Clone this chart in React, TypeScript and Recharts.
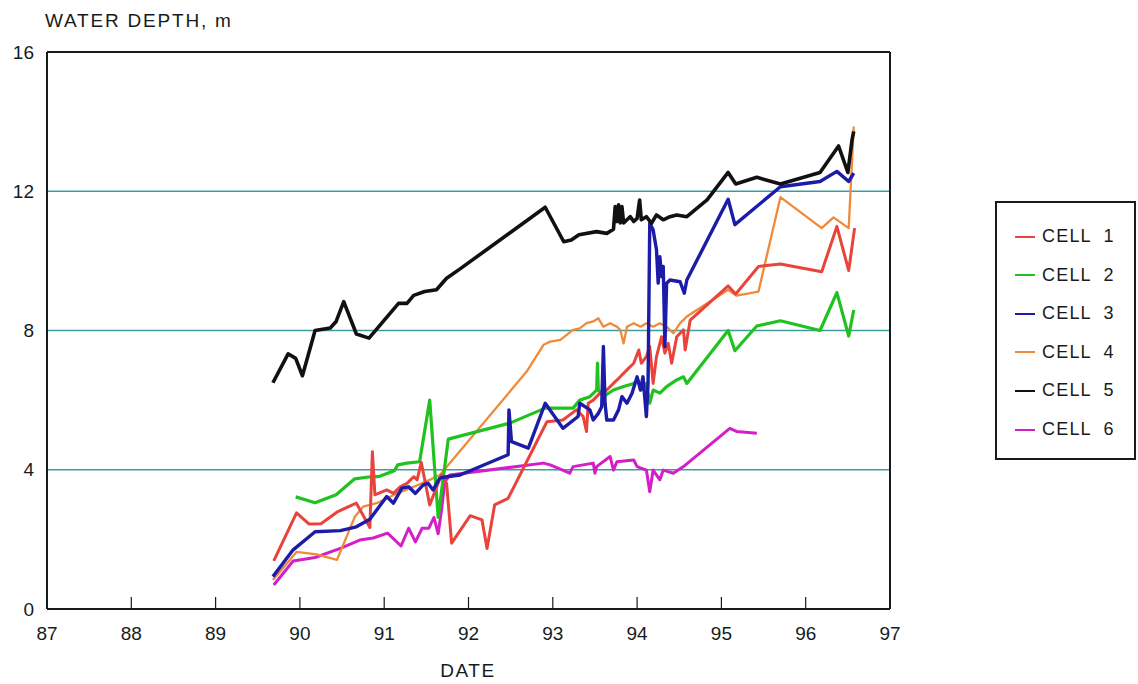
import { LineChart, Line, XAxis, YAxis, CartesianGrid, ReferenceLine } from 'recharts';

// [year, depth m]
const cell1: [number, number][] = [
  [89.69, 1.38], [89.96, 2.76], [90.11, 2.44], [90.25, 2.45], [90.45, 2.8], [90.67, 3.04],
  [90.83, 2.34], [90.86, 4.52], [90.89, 3.28], [91.03, 3.42], [91.11, 3.32], [91.19, 3.51],
  [91.27, 3.61], [91.35, 3.8], [91.39, 3.71], [91.44, 4.21], [91.54, 2.99], [91.62, 3.49],
  [91.68, 3.85], [91.74, 3.61], [91.8, 1.89], [92.02, 2.68], [92.16, 2.56], [92.22, 1.74],
  [92.31, 2.99], [92.47, 3.18], [92.93, 5.38], [93.12, 5.43], [93.28, 5.72], [93.36, 5.53],
  [93.4, 5.1], [93.42, 5.91], [93.48, 6.0], [93.56, 6.2], [93.64, 6.29], [93.72, 6.48],
  [93.8, 6.67], [93.88, 6.87], [93.96, 7.06], [94.02, 7.44], [94.05, 7.06], [94.11, 7.25],
  [94.15, 7.54], [94.19, 6.48], [94.23, 7.25], [94.29, 7.82], [94.33, 7.35], [94.37, 7.63],
  [94.41, 7.06], [94.47, 7.82], [94.55, 8.02], [94.57, 7.44], [94.63, 8.3], [95.08, 9.28],
  [95.17, 9.05], [95.44, 9.84], [95.7, 9.91], [96.19, 9.69], [96.37, 10.99], [96.51, 9.72],
  [96.58, 10.94],
];

const cell2: [number, number][] = [
  [89.95, 3.22], [90.18, 3.05], [90.43, 3.28], [90.65, 3.74], [90.84, 3.8], [90.93, 3.8],
  [91.12, 3.97], [91.16, 4.14], [91.27, 4.19], [91.42, 4.23], [91.54, 6.0], [91.64, 2.63],
  [91.76, 4.88], [92.49, 5.34], [92.91, 5.77], [93.24, 5.77], [93.32, 6.0], [93.44, 6.1],
  [93.52, 6.29], [93.53, 7.06], [93.54, 6.29], [93.6, 6.1], [93.72, 6.29], [93.84, 6.39],
  [93.96, 6.48], [94.01, 6.58], [94.05, 6.29], [94.11, 6.48], [94.15, 5.91], [94.19, 6.29],
  [94.27, 6.2], [94.35, 6.39], [94.47, 6.58], [94.55, 6.67], [94.59, 6.48], [95.08, 8.0],
  [95.16, 7.42], [95.42, 8.13], [95.7, 8.28], [96.17, 8.0], [96.37, 9.09], [96.51, 7.84],
  [96.57, 8.59],
];

const cell3: [number, number][] = [
  [89.68, 0.93], [89.92, 1.7], [90.18, 2.22], [90.48, 2.25], [90.67, 2.36], [90.83, 2.58],
  [91.03, 3.23], [91.11, 3.04], [91.21, 3.47], [91.29, 3.51], [91.37, 3.32], [91.46, 3.56],
  [91.52, 3.61], [91.58, 3.42], [91.66, 3.76], [91.74, 3.8], [91.9, 3.85], [92.47, 4.43],
  [92.48, 5.72], [92.51, 4.81], [92.71, 4.62], [92.91, 5.91], [93.12, 5.19], [93.3, 5.53],
  [93.32, 5.91], [93.44, 5.72], [93.48, 5.43], [93.54, 5.62], [93.58, 5.81], [93.6, 7.54],
  [93.62, 5.91], [93.64, 5.43], [93.72, 5.43], [93.78, 5.72], [93.82, 6.1], [93.88, 5.91],
  [93.94, 6.2], [94.0, 6.67], [94.04, 6.29], [94.07, 6.67], [94.11, 5.53], [94.13, 6.48],
  [94.15, 11.08], [94.19, 10.89], [94.23, 10.32], [94.25, 9.36], [94.27, 10.12], [94.29, 9.55],
  [94.31, 9.84], [94.33, 7.54], [94.35, 9.36], [94.39, 9.45], [94.51, 9.4], [94.56, 9.07],
  [94.59, 9.45], [95.08, 11.77], [95.16, 11.04], [95.7, 12.13], [96.17, 12.28], [96.37, 12.57],
  [96.51, 12.28], [96.57, 12.52],
];

const cell4: [number, number][] = [
  [89.68, 0.83], [89.96, 1.64], [90.2, 1.57], [90.44, 1.41], [90.65, 2.64], [90.75, 2.94],
  [90.91, 3.04], [91.15, 3.32], [91.35, 3.51], [91.54, 3.71], [91.66, 3.85], [92.69, 6.82],
  [92.89, 7.59], [92.97, 7.68], [93.09, 7.73], [93.24, 8.02], [93.32, 8.06], [93.4, 8.21],
  [93.48, 8.26], [93.54, 8.35], [93.6, 8.11], [93.68, 8.21], [93.76, 8.11], [93.8, 8.02],
  [93.84, 7.63], [93.88, 8.11], [93.96, 8.21], [94.04, 8.11], [94.11, 8.21], [94.19, 8.11],
  [94.27, 8.21], [94.35, 8.11], [94.43, 7.92], [94.51, 8.21], [94.59, 8.4], [95.08, 9.17],
  [95.18, 9.0], [95.44, 9.12], [95.7, 11.83], [96.19, 10.94], [96.33, 11.25], [96.51, 10.94],
  [96.57, 13.86],
];

const cell5: [number, number][] = [
  [89.68, 6.5], [89.86, 7.33], [89.95, 7.2], [90.03, 6.7], [90.18, 8.0], [90.36, 8.07],
  [90.43, 8.26], [90.52, 8.83], [90.67, 7.9], [90.82, 7.78], [91.17, 8.78], [91.27, 8.78],
  [91.35, 9.01], [91.48, 9.12], [91.62, 9.17], [91.74, 9.5], [91.9, 9.77], [92.91, 11.54],
  [93.13, 10.55], [93.22, 10.6], [93.31, 10.75], [93.52, 10.84], [93.64, 10.79], [93.72, 10.91],
  [93.74, 11.56], [93.76, 11.13], [93.78, 11.61], [93.8, 11.09], [93.82, 11.56], [93.84, 11.09],
  [93.88, 11.18], [93.92, 11.27], [93.96, 11.13], [94.0, 11.22], [94.03, 11.75], [94.05, 11.18],
  [94.11, 11.27], [94.17, 11.08], [94.23, 11.32], [94.31, 11.18], [94.39, 11.27], [94.47, 11.32],
  [94.59, 11.27], [94.83, 11.75], [95.08, 12.54], [95.17, 12.21], [95.42, 12.4], [95.7, 12.21],
  [96.17, 12.54], [96.39, 13.3], [96.5, 12.54], [96.55, 13.48], [96.57, 13.72],
];

const cell6: [number, number][] = [
  [89.69, 0.69], [89.92, 1.38], [90.18, 1.48], [90.48, 1.74], [90.71, 1.98], [90.87, 2.04],
  [91.04, 2.18], [91.2, 1.81], [91.29, 2.32], [91.37, 1.93], [91.45, 2.32], [91.53, 2.32],
  [91.59, 2.63], [91.64, 2.16], [91.68, 2.84], [91.72, 3.66], [91.78, 3.85], [92.89, 4.19],
  [92.97, 4.14], [93.2, 3.9], [93.24, 4.09], [93.48, 4.19], [93.5, 3.9], [93.52, 4.09],
  [93.68, 4.38], [93.72, 3.99], [93.76, 4.23], [93.96, 4.28], [94.0, 4.09], [94.11, 3.99],
  [94.15, 3.37], [94.19, 3.99], [94.27, 3.71], [94.31, 3.99], [94.43, 3.9], [94.55, 4.09],
  [95.1, 5.19], [95.18, 5.1], [95.42, 5.05],
];

const cellNames = ['CELL  1', 'CELL  2', 'CELL  3', 'CELL  4', 'CELL  5', 'CELL  6'];
const xTicks = [87, 88, 89, 90, 91, 92, 93, 94, 95, 96, 97];
const yTicks = [0, 4, 8, 12, 16];

const cells = [
  { name: cellNames[0], points: cell1, color: '#e8443c', width: 3 },
  { name: cellNames[1], points: cell2, color: '#1fc21f', width: 3.2 },
  { name: cellNames[2], points: cell3, color: '#1c1ca8', width: 3.4 },
  { name: cellNames[3], points: cell4, color: '#f08a3a', width: 2.3 },
  { name: cellNames[4], points: cell5, color: '#111111', width: 3.6 },
  { name: cellNames[5], points: cell6, color: '#d41ec8', width: 3 },
];

// drawing order, back to front
const drawOrder = [5, 3, 1, 0, 2, 4];

const font = '"Liberation Sans", Arial, sans-serif';
const ink = '#161c1c';

const DateTick = (props: any) => {
  const { x, y, payload } = props;
  const edge = payload.value === 87 || payload.value === 97;
  return (
    <g>
      {!edge && <line x1={x} x2={x} y1={y} y2={y - 12} stroke={ink} strokeWidth={1.2} />}
      <text x={x} y={y + 31} textAnchor="middle" fontSize={19} fontFamily={font} fill={ink}>
        {payload.value}
      </text>
    </g>
  );
};

export default function App() {
  return (
    <div style={{ position: 'absolute', left: 0, top: 0, width: 1138, height: 684, background: '#fff', fontFamily: font }}>
      <LineChart width={1138} height={684} margin={{ top: 52, right: 248, left: 0, bottom: 0 }}>
        <CartesianGrid vertical={false} stroke="#3e9c9c" strokeWidth={1.4} />
        <XAxis
          type="number"
          dataKey="x"
          domain={[87, 97]}
          ticks={xTicks}
          allowDataOverflow
          height={75}
          tickSize={0}
          tickMargin={0}
          tickLine={false}
          axisLine={{ stroke: ink, strokeWidth: 2 }}
          tick={<DateTick />}
        />
        <YAxis
          type="number"
          domain={[0, 16]}
          ticks={yTicks}
          width={47}
          tickSize={0}
          tickMargin={13}
          tickLine={false}
          axisLine={{ stroke: ink, strokeWidth: 2 }}
          tick={{ fontSize: 19, fontFamily: font, fill: ink }}
        />
        <ReferenceLine y={16} stroke={ink} strokeWidth={2} />
        <ReferenceLine x={97} stroke={ink} strokeWidth={2} />
        {drawOrder.map((i) => {
          const c = cells[i];
          return (
            <Line
              key={c.name}
              data={c.points.map(([x, y]) => ({ x, y }))}
              dataKey="y"
              name={c.name}
              type="linear"
              stroke={c.color}
              strokeWidth={c.width}
              strokeLinejoin="round"
              dot={false}
              isAnimationActive={false}
            />
          );
        })}
      </LineChart>

      <div style={{ position: 'absolute', left: 45, top: 10, fontSize: 19, letterSpacing: 1.8, color: ink }}>
        WATER DEPTH, m
      </div>
      <div style={{ position: 'absolute', left: 368, width: 200, top: 660, textAlign: 'center', fontSize: 19, letterSpacing: 1.5, color: ink }}>
        DATE
      </div>

      {/* legend box */}
      <div
        style={{
          position: 'absolute',
          left: 995,
          top: 201,
          width: 137,
          height: 255,
          border: `2px solid ${ink}`,
          boxSizing: 'content-box',
        }}
      >
        {cells.map((c, i) => (
          <div key={c.name} style={{ position: 'absolute', left: 18, top: 23 + i * 38.6, display: 'flex', alignItems: 'center' }}>
            <div style={{ width: 20, height: 2, background: c.color }} />
            <span style={{ marginLeft: 7, fontSize: 18, letterSpacing: 1.2, whiteSpace: 'pre', color: ink }}>{c.name}</span>
          </div>
        ))}
      </div>
    </div>
  );
}
